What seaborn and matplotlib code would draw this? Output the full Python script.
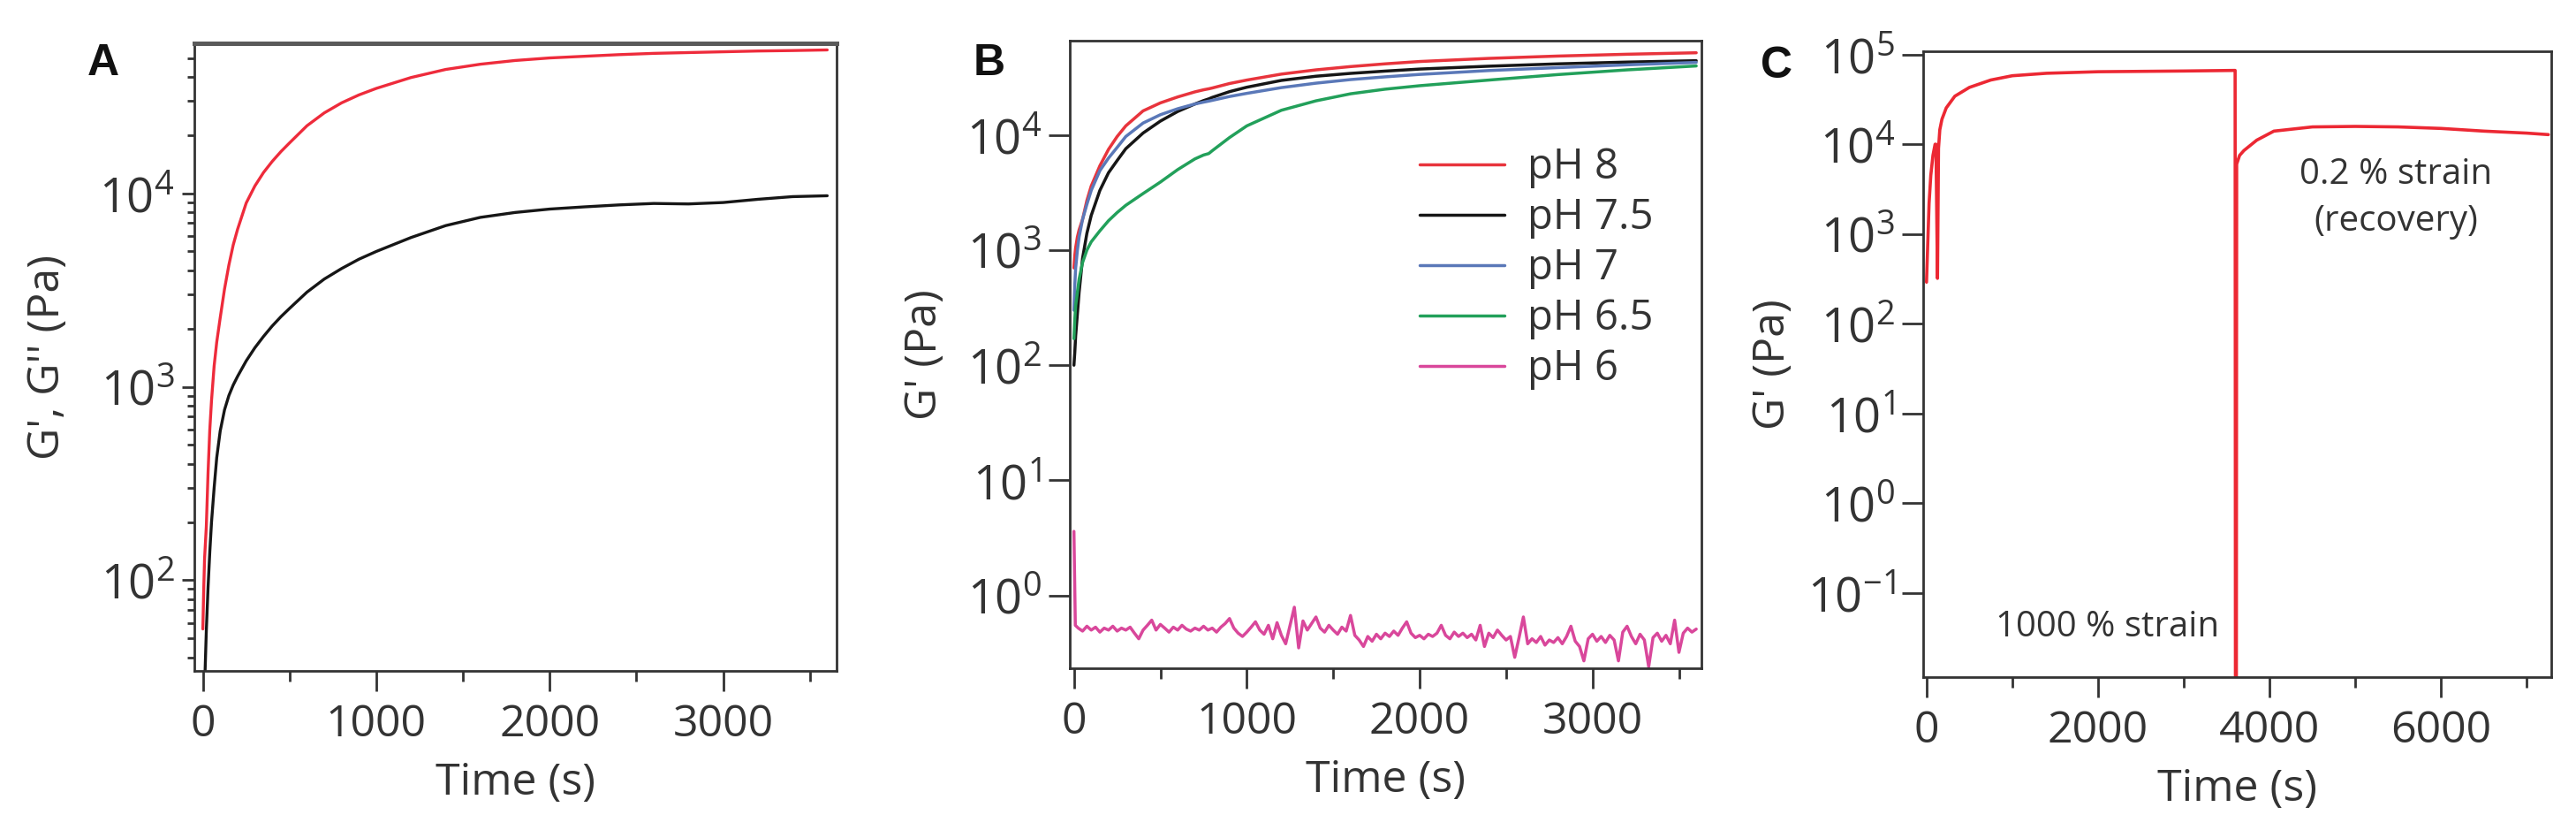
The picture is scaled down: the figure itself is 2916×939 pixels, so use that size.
import numpy as np
import pandas as pd
import matplotlib
matplotlib.use('Agg')
import matplotlib.pyplot as plt
import seaborn as sns
from matplotlib.ticker import MultipleLocator, NullLocator, NullFormatter, LogLocator

# ---- panel A: G' and G'' vs time ----
a_time = [0, 5, 10, 20, 30, 40, 50, 65, 80, 100, 125, 150, 175, 200, 250, 300, 350,
          400, 450, 500, 600, 700, 800, 900, 1000, 1200, 1400, 1600, 1800, 2000,
          2200, 2400, 2600, 2800, 3000, 3200, 3400, 3600]
a_gp = [56, 90, 130, 190, 360, 600, 850, 1280, 1700, 2270, 3200, 4250, 5400, 6500,
        8900, 10900, 12800, 14600, 16400, 18200, 22300, 26000, 29300, 32200, 34800,
        39600, 43600, 46400, 48500, 50000, 51000, 52000, 52800, 53300, 53800, 54300,
        54600, 55000]
a_gpp = [18, 22, 28, 55, 92, 140, 200, 300, 430, 590, 760, 900, 1020, 1130, 1360,
         1590, 1820, 2060, 2300, 2540, 3080, 3600, 4080, 4560, 5000, 5900, 6800, 7500,
         7950, 8280, 8500, 8700, 8850, 8800, 8950, 9300, 9600, 9700]

# ---- panel B: G' for several pH ----
b_time = [0, 5, 10, 20, 30, 50, 75, 100, 150, 200, 250, 300, 400, 500, 600, 700,
          750, 780, 800, 900, 1000, 1200, 1400, 1600, 1800, 2000, 2400, 2800, 3200, 3600]
b_ph8 = [700, 900, 1050, 1300, 1500, 1850, 2700, 3600, 5400, 7500, 9700, 12000, 16200,
         19000, 21400, 23700, 24700, 25200, 25600, 28000, 30000, 33800, 36800, 39300,
         41500, 43500, 46300, 48500, 50300, 51800]
b_ph75 = [100, 130, 180, 280, 430, 850, 1400, 2000, 3300, 4700, 6000, 7600, 10400,
          13200, 16000, 18600, 19900, 20600, 21200, 23800, 26000, 29800, 32400, 34300,
          35900, 37400, 39600, 41500, 43000, 44200]
b_ph7 = [300, 500, 700, 1000, 1300, 1850, 2500, 3300, 4900, 6300, 7800, 9700, 12700,
         15000, 16900, 18600, 19300, 19700, 20000, 21600, 23000, 25800, 28200, 30300,
         32000, 33600, 36300, 38500, 40700, 42700]
b_ph65 = [170, 250, 330, 430, 560, 780, 1000, 1180, 1470, 1800, 2120, 2450, 3100, 3900,
          5000, 6200, 6700, 6900, 7300, 9500, 12000, 16400, 19800, 22800, 25000, 26800,
          30000, 33500, 36800, 39800]

ph6_time = [0, 8,
            25, 50, 75, 100, 125, 150, 175, 200, 225, 250, 275, 300,
            325, 350, 375, 400, 425, 450, 475, 500, 525, 550, 575, 600,
            625, 650, 675, 700, 725, 750, 775, 800, 825, 850, 875, 900,
            925, 950, 975, 1000, 1025, 1050, 1075, 1100, 1125, 1150, 1175, 1200,
            1225, 1250, 1275, 1300, 1325, 1350, 1375, 1400, 1425, 1450, 1475, 1500,
            1525, 1550, 1575, 1600, 1625, 1650, 1675, 1700, 1725, 1750, 1775, 1800,
            1825, 1850, 1875, 1900, 1925, 1950, 1975, 2000, 2025, 2050, 2075, 2100,
            2125, 2150, 2175, 2200, 2225, 2250, 2275, 2300, 2325, 2350, 2375, 2400,
            2425, 2450, 2475, 2500, 2525, 2550, 2575, 2600, 2625, 2650, 2675, 2700,
            2725, 2750, 2775, 2800, 2825, 2850, 2875, 2900, 2925, 2950, 2975, 3000,
            3025, 3050, 3075, 3100, 3125, 3150, 3175, 3200, 3225, 3250, 3275, 3300,
            3325, 3350, 3375, 3400, 3425, 3450, 3475, 3500, 3525, 3550, 3575, 3600]
ph6_gp = [3.6, 0.55,
          0.52, 0.49, 0.54, 0.50, 0.53, 0.48, 0.52, 0.50, 0.54, 0.49, 0.52, 0.50,
          0.53, 0.47, 0.42, 0.50, 0.55, 0.61, 0.50, 0.56, 0.52, 0.48, 0.53, 0.50,
          0.55, 0.51, 0.49, 0.52, 0.50, 0.54, 0.50, 0.52, 0.48, 0.53, 0.57, 0.63,
          0.52, 0.47, 0.44, 0.48, 0.53, 0.59, 0.50, 0.46, 0.55, 0.42, 0.58, 0.45,
          0.38, 0.55, 0.79, 0.35, 0.60, 0.50, 0.57, 0.65, 0.52, 0.48, 0.55, 0.50,
          0.46, 0.53, 0.49, 0.67, 0.45, 0.41, 0.36, 0.44, 0.40, 0.46, 0.42, 0.47,
          0.44, 0.49, 0.45, 0.52, 0.59, 0.47, 0.43, 0.45, 0.42, 0.46, 0.44, 0.47,
          0.55, 0.45, 0.42, 0.48, 0.44, 0.47, 0.43, 0.46, 0.41, 0.55, 0.36, 0.47,
          0.43, 0.50, 0.45, 0.41, 0.44, 0.29, 0.43, 0.65, 0.38, 0.42, 0.39, 0.44,
          0.37, 0.41, 0.39, 0.43, 0.38, 0.44, 0.54, 0.40, 0.36, 0.27, 0.42, 0.46,
          0.40, 0.44, 0.39, 0.45, 0.41, 0.27, 0.48, 0.54, 0.44, 0.38, 0.46, 0.41,
          0.24, 0.43, 0.47, 0.40, 0.45, 0.38, 0.61, 0.32, 0.47, 0.52, 0.48, 0.51]

ph_labels = ['pH 8', 'pH 7.5', 'pH 7', 'pH 6.5', 'pH 6']
ph_colors = ['#e8343c', '#161616', '#5a78b8', '#22a05a', '#d9479b']

# ---- panel C: strain step / recovery ----
c_time = [0, 15, 30, 50, 75, 100, 110, 128, 140, 155, 180, 230, 330, 500, 750, 1000,
          1400, 2000, 3000, 3598, 3602, 3612, 3616, 3650, 3700, 3850, 4050, 4500,
          5000, 5500, 6000, 6500, 7000, 7250]
c_gp = [290, 800, 2200, 4500, 7500, 10000, 10000, 320, 9000, 14500, 19000, 25400,
        34300, 43000, 52000, 58000, 61800, 64300, 65500, 66500, 0.004, 0.004, 6000,
        7500, 8500, 11100, 14000, 15600, 15800, 15600, 15000, 14000, 13300, 12800]

DARK = '#333333'

sns.set_theme(style='ticks')
plt.rcParams['font.family'] = ['Open Sans', 'DejaVu Sans']
plt.rcParams['mathtext.fontset'] = 'custom'
plt.rcParams['mathtext.rm'] = 'Open Sans'
plt.rcParams['mathtext.it'] = 'Open Sans:italic'
plt.rcParams['mathtext.bf'] = 'Open Sans:bold'

fig = plt.figure(figsize=(14.58, 4.695), dpi=200)
axA = fig.add_axes([0.07545, 0.19169, 0.24931, 0.75612])
axB = fig.add_axes([0.41529, 0.19489, 0.24520, 0.75612])
axC = fig.add_axes([0.74657, 0.18424, 0.24383, 0.75399])


def style_axis(ax, xlim, ylim, xmajor, xminor, ylen, yminor):
    ax.set_yscale('log')
    ax.set_xlim(*xlim)
    ax.set_ylim(*ylim)
    ax.xaxis.set_major_locator(MultipleLocator(xmajor))
    ax.xaxis.set_minor_locator(MultipleLocator(xminor))
    ax.yaxis.set_major_locator(LogLocator(base=10, numticks=20))
    if yminor:
        ax.yaxis.set_minor_locator(LogLocator(base=10, subs=np.arange(2, 10), numticks=20))
    else:
        ax.yaxis.set_minor_locator(NullLocator())
    ax.yaxis.set_minor_formatter(NullFormatter())
    for sp in ax.spines.values():
        sp.set_color(DARK)
        sp.set_linewidth(1.0)
    ax.tick_params(axis='x', which='major', direction='out', length=8.3, width=1.0,
                   pad=5, labelsize=18, colors=DARK)
    ax.tick_params(axis='x', which='minor', direction='out', length=4.2, width=1.0, colors=DARK)
    ax.tick_params(axis='y', which='major', direction='out', length=ylen, width=1.0,
                   pad=3, labelsize=19.5, colors=DARK)
    ax.tick_params(axis='y', which='minor', direction='out', length=ylen * 0.6, width=1.0,
                   colors=DARK)
    ax.tick_params(top=False, right=False, which='both')
    ax.set_xlabel('Time (s)', fontsize=18, color=DARK)
    ax.xaxis.set_label_coords(0.5, -0.145)


# panel A
sns.lineplot(x=a_time, y=a_gp, ax=axA, color='#ee2b3b', lw=1.2, estimator=None, sort=False)
sns.lineplot(x=a_time, y=a_gpp, ax=axA, color='#161616', lw=1.2, estimator=None, sort=False)
style_axis(axA, (-49, 3654), (34, 59500), 1000, 500, 5, True)
axA.spines['top'].set_color('#5a5a5a')
axA.spines['top'].set_linewidth(1.8)
axA.set_ylabel("G', G'' (Pa)", fontsize=18, color=DARK)
axA.yaxis.set_label_coords(-0.194, 0.5)

# panel B
b_series = [b_ph8, b_ph75, b_ph7, b_ph65]
for vals, lab, col in zip(b_series, ph_labels[:4], ph_colors[:4]):
    sns.lineplot(x=b_time, y=vals, ax=axB, color=col, lw=1.25, label=lab,
                 estimator=None, sort=False)
sns.lineplot(x=ph6_time, y=ph6_gp, ax=axB, color=ph_colors[4], lw=1.25, label=ph_labels[4],
             estimator=None, sort=False)
style_axis(axB, (-24, 3630), (0.233, 66000), 1000, 500, 8.5, False)
axB.set_ylabel("G' (Pa)", fontsize=18, color=DARK)
axB.yaxis.set_label_coords(-0.194, 0.5)
axB.legend(loc='upper left', bbox_to_anchor=(0.554, 0.831), frameon=False, fontsize=17,
           borderpad=0, borderaxespad=0, handlelength=2.03, handletextpad=0.55,
           labelspacing=0.2, labelcolor=DARK)

# panel C
sns.lineplot(x=c_time, y=c_gp, ax=axC, color='#ec2833', lw=1.3, estimator=None, sort=False)
style_axis(axC, (-39, 7284), (0.0115, 108700), 2000, 1000, 8.5, False)
axC.set_ylabel("G' (Pa)", fontsize=18, color=DARK)
axC.yaxis.set_label_coords(-0.204, 0.5)
axC.text(2112, 0.041, '1000 % strain', ha='center', va='center', fontsize=14.5, color=DARK)
axC.text(5470, 4540, '0.2 % strain', ha='center', va='center', fontsize=14.5, color=DARK)
axC.text(5470, 1365, '(recovery)', ha='center', va='center', fontsize=14.5, color=DARK)

for txt, x, y in [('A', 0.04012, 0.92332), ('B', 0.38409, 0.92332), ('C', 0.68964, 0.92013)]:
    fig.text(x, y, txt, ha='center', va='center', fontsize=18, fontweight='bold',
             family=['Liberation Sans', 'DejaVu Sans'], color='#111111')

fig.savefig('out.png', dpi=200)
